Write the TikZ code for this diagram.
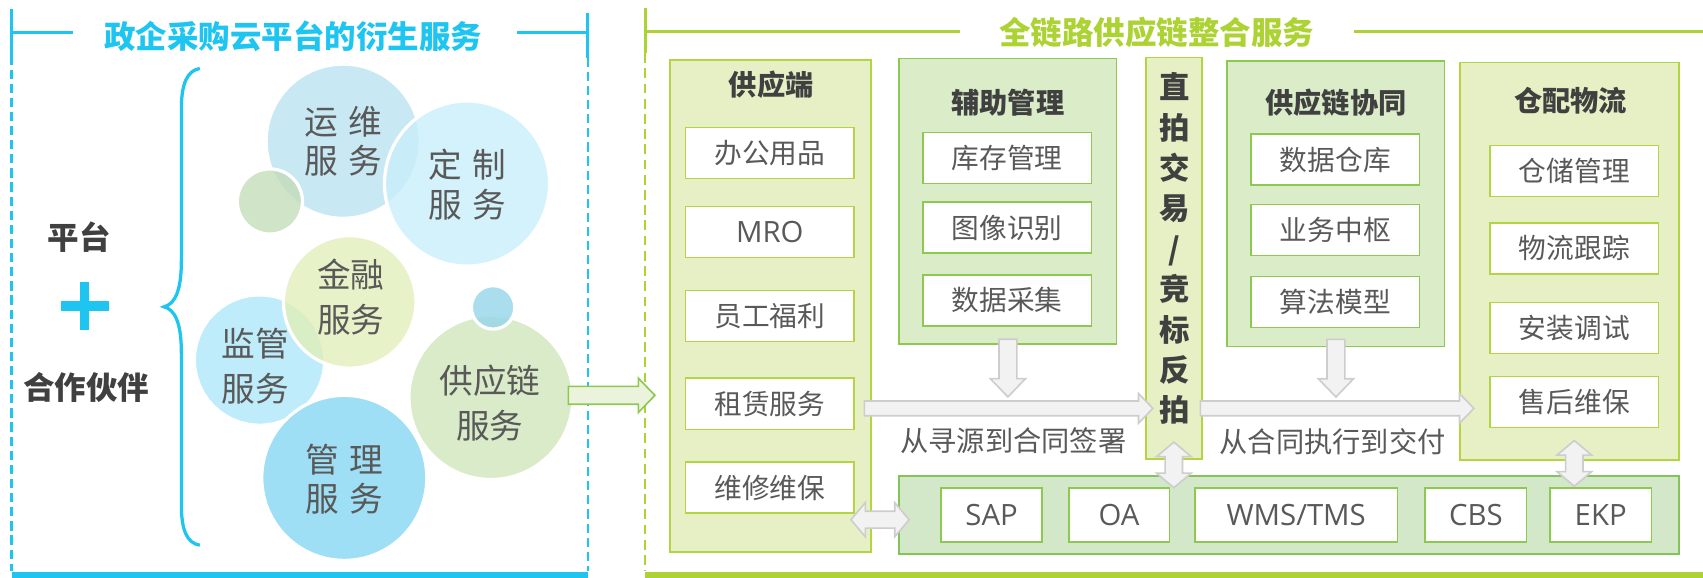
\documentclass[tikz,border=0pt]{standalone}
\usepackage{fontspec}
\newfontfamily\cjk{Noto Sans CJK SC}
\newfontfamily\lat{Open Sans}
\usetikzlibrary{shapes.arrows,calc,positioning}

\definecolor{sky}{RGB}{29,197,240}
\definecolor{lime}{RGB}{172,210,52}
\definecolor{txtgray}{RGB}{89,89,89}
\definecolor{titgray}{RGB}{64,64,64}
\definecolor{fillA}{RGB}{230,240,196}
\definecolor{edgeA}{RGB}{178,214,66}
\definecolor{fillB}{RGB}{218,237,200}
\definecolor{edgeB}{RGB}{141,200,80}
\definecolor{fillS}{RGB}{211,231,201}
\definecolor{edgeS}{RGB}{130,195,90}
\definecolor{arrfill}{RGB}{242,242,242}
\definecolor{arrline}{RGB}{205,205,205}
\definecolor{limefill}{RGB}{235,243,220}
% bubble colours (used with fill opacity 0.8)
\definecolor{cYW}{RGB}{186,226,241}
\definecolor{cDZ}{RGB}{201,239,250}
\definecolor{cSG}{RGB}{196,221,186}
\definecolor{cJR}{RGB}{226,239,186}
\definecolor{cJG}{RGB}{174,231,249}
\definecolor{cGL}{RGB}{134,215,244}
\definecolor{cGY}{RGB}{207,230,186}
\definecolor{cSB}{RGB}{149,212,234}

\begin{document}
\begin{tikzpicture}[
    x=1pt, y=-1pt,
    every node/.style={font=\cjk, text=txtgray},
    bigtitle/.style={font=\cjk\bfseries\fontsize{29}{29}\selectfont, inner sep=0},
    sidetxt/.style={font=\cjk\bfseries\fontsize{29}{29}\selectfont, text=titgray},
    skyline/.style={sky, line width=3pt},
    skydash/.style={sky, line width=2pt, dash pattern=on 8.5pt off 4.5pt},
    limeline/.style={lime, line width=3pt},
    limedash/.style={lime, line width=1.5pt, dash pattern=on 9pt off 5pt},
    bubble/.style={circle, draw=white, line width=3pt, fill opacity=0.8, inner sep=0},
    btxt/.style={align=center, font=\cjk\fontsize{31}{42}\selectfont},
    btxtsp/.style={align=center, font=\cjk\fontsize{31}{36}\selectfont},
    colbox/.style={draw=edgeA, fill=fillA, line width=1.5pt, inner sep=0},
    colboxB/.style={colbox, draw=edgeB, fill=fillB},
    sysbox/.style={colbox, draw=edgeS, fill=fillS},
    coltitle/.style={font=\cjk\bfseries\fontsize{26}{26}\selectfont, text=titgray},
    vtext/.style={align=center, font=\cjk\bfseries\fontsize{28}{37.2}\selectfont, text=titgray},
    itemA/.style={draw=edgeA, fill=white, line width=1.5pt, minimum width=155, minimum height=47,
                  inner sep=0, font=\cjk\fontsize{25.5}{25.5}\selectfont},
    itemB/.style={itemA, draw=edgeB},
    sysitem/.style={itemB, minimum height=49.5, font=\lat\fontsize{27}{27}\selectfont},
    capt/.style={font=\cjk\fontsize{26}{26}\selectfont},
    grayarrow/.style={single arrow, draw=arrline, fill=arrfill, line width=1.5pt, inner xsep=0,
                      inner ysep=6pt, single arrow head extend=7pt, single arrow tip angle=92},
    downarrow/.style={grayarrow, inner ysep=7.5pt, single arrow head extend=8pt, single arrow tip angle=88},
    dblarrow/.style={double arrow, draw=arrline, fill=arrfill, line width=1.5pt, inner xsep=0,
                     inner ysep=7.25pt, double arrow head extend=8pt, double arrow tip angle=100},
    limearrow/.style={single arrow, draw=edgeB, fill=limefill, line width=1.5pt, inner xsep=0,
                      inner ysep=7.5pt, single arrow head extend=7.5pt, single arrow tip angle=92}
]
\useasboundingbox (0,0) rectangle (1568,532);

% Left frame
\draw[skyline] (10.6,8.5) -- (10.6,51);
\draw[skyline] (10.6,30) -- (67,30);
\node[bigtitle, text=sky] (LT) at (270,33) {政企采购云平台的衍生服务};
\draw[skyline] (476,30) -- (541,30);
\draw[skyline] (541,12) -- (541,53);
\draw[skydash] (10.6,51) -- (10.6,526);
\draw[skydash] (541,53) -- (541,526);
\draw[sky, line width=5pt] (10.6,529.5) -- (541,529.5);

% Platform + partners
\node[sidetxt] (PT) at (73,218) {平台};
\draw[sky, line width=9pt] (56,282) -- (100,282);
\draw[sky, line width=8pt] (78,260) -- (78,304);
\node[sidetxt] (HZ) at (79.5,357) {合作伙伴};
\draw[sky, line width=3pt] (184,63) .. controls (172,65) and (167,78) .. (167,100) -- (167,240)
    .. controls (167,268) and (161,280) .. (151,282.5) .. controls (161,285) and (167,297) .. (167,325)
    -- (167,465) .. controls (167,488) and (172,500) .. (184,502);

% Bubbles
\node[bubble, fill=cYW, minimum size=142] (YW) at (316,130) {};
\node[bubble, fill=cSG, minimum size=60] (SG) at (248.5,185.5) {};
\node[bubble, fill=cDZ, minimum size=152] (DZ) at (430,169) {};
\node[bubble, fill=cJG, minimum size=120] (JG) at (239,331.5) {};
\node[bubble, fill=cJR, minimum size=122] (JR) at (322,278) {};
\node[bubble, fill=cGL, minimum size=152] (GL) at (317,440) {};
\node[bubble, fill=cGY, minimum size=151] (GY) at (452,366) {};
\node[bubble, fill=cSB, minimum size=40] (SB) at (454,283) {};

\node[btxtsp] (tYW) at (YW) {运\hspace{0.3em}维\\服\hspace{0.3em}务};
\node[btxtsp] (tDZ) at (430,170) {定\hspace{0.3em}制\\服\hspace{0.3em}务};
\node[btxt] (tJR) at (323,273.5) {金融\\服务};
\node[btxt] (tJG) at (235,337) {监管\\服务};
\node[btxtsp] (tGL) at (317,441) {管\hspace{0.3em}理\\服\hspace{0.3em}务};
\node[btxt] (tGY) at (451,371) {供应链\\服务};

% Right frame
\draw[limeline] (594,7.7) -- (594,49);
\draw[limeline] (594,29) -- (884,29);
\node[bigtitle, text=lime] (RT) at (1065,30) {全链路供应链整合服务};
\draw[limeline] (1246.6,29) -- (1568,29);
\draw[limedash] (594,49) -- (594,526);
\draw[lime, line width=5pt] (594,529.5) -- (1568,529.5);

% Supply side
\node[colbox, minimum width=185, minimum height=453] (GYD) at (709.5,281.5) {};
\node[coltitle] (GYDt) at (710,78) {供应端};
\node[itemA] (G1) at (708.8,141) {办公用品};
\node[itemA, font=\lat\fontsize{27}{27}\selectfont] (G2) at (708.8,213.5) {MRO};
\node[itemA] (G3) at (708.8,291) {员工福利};
\node[itemA] (G4) at (708.8,371.8) {租赁服务};
\node[itemA] (G5) at (708.8,449) {维修维保};

% Auxiliary management
\node[colboxB, minimum width=200, minimum height=263] (FZ) at (928,185.4) {};
\node[coltitle] (FZt) at (928,94.6) {辅助管理};
\node[itemB] (F1) at (927.3,145.4) {库存管理};
\node[itemB] (F2) at (927.3,209.6) {图像识别};
\node[itemB] (F3) at (927.3,276.5) {数据采集};

% Direct / reverse auction
\node[colbox, minimum width=51.7, minimum height=369.6] (ZP) at (1080.8,237.8) {};
\node[vtext] (ZPt) at (1081.5,229) {直\\拍\\交\\易\\/\\竞\\标\\反\\拍};

% Supply chain collaboration
\node[colboxB, minimum width=200, minimum height=263] (XT) at (1230,187.5) {};
\node[coltitle] (XTt) at (1230,95) {供应链协同};
\node[itemB] (X1) at (1229.5,147) {数据仓库};
\node[itemB] (X2) at (1229.5,211.7) {业务中枢};
\node[itemB] (X3) at (1229.5,278) {算法模型};

% Warehousing & logistics
\node[colbox, minimum width=202, minimum height=366] (CP) at (1445,240.6) {};
\node[coltitle] (CPt) at (1446,93) {仓配物流};
\node[itemA] (C1) at (1449.5,157.5) {仓储管理};
\node[itemA] (C2) at (1449.5,228.6) {物流跟踪};
\node[itemA] (C3) at (1449.5,302) {安装调试};
\node[itemA] (C4) at (1449.5,370) {售后维保};

% Systems
\node[sysbox, minimum width=718, minimum height=72] (SYS) at (1187,474) {};
\node[sysitem, minimum width=93] (SAP) at (913,474) {SAP};
\node[sysitem, minimum width=92.7] (OA) at (1030.4,474) {OA};
\node[sysitem, minimum width=186.8] (WMS) at (1193.4,474) {WMS/TMS};
\node[sysitem, minimum width=93.6] (CBS) at (1358.8,474) {CBS};
\node[sysitem, minimum width=93.6] (EKP) at (1473.8,474) {EKP};

% Arrows
\path let \p1=(GY.east), \p2=(GYD.west) in
  node[limearrow, anchor=west, minimum height={\x2-\x1-7.5pt}] (A0) at ($(\p1)+(-6.5,-2)$) {};
\path let \p1=(G4.east), \p2=(ZP.west) in
  node[grayarrow, anchor=west, minimum height={\x2-\x1-1.5pt}] (A1) at ($(\p1)+(8,4.2)$) {};
\path let \p1=(ZP.east), \p2=(CP.west), \p3=(A1.west) in
  node[grayarrow, anchor=west, minimum height={\x2-\x1+16pt}] (A2) at (\x1-3pt,\y3) {};
\node[downarrow, rotate=-90, anchor=west, minimum height=53] (A3) at ($(FZ.south)+(0,-6)$) {};
\node[downarrow, rotate=-90, anchor=west, minimum height=53] (A4) at ($(XT.south)+(0,-8)$) {};
\node[dblarrow, rotate=90, minimum height=42] (A5) at ($(ZP.south)+(0,4.7)$) {};
\node[dblarrow, rotate=90, minimum height=42] (A6) at ($(CP.south)+(4.5,2.3)$) {};
\node[dblarrow, inner ysep=7pt, minimum height=53.5] (A7) at ($(GYD.east|-SYS.center)+(7.5,4.5)$) {};

% Captions
\node[capt] (L1) at (933,405.6) {从寻源到合同签署};
\node[capt] (L2) at (1227,407) {从合同执行到交付};
\end{tikzpicture}
\end{document}
